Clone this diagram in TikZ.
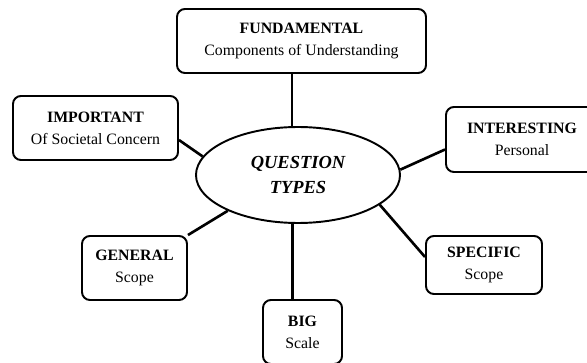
\documentclass[tikz,border=0pt]{standalone}
\usepackage{fontspec}
\setmainfont{Liberation Serif}
\usepackage{tikz}
\usetikzlibrary{shapes.geometric}

\begin{document}
\begin{tikzpicture}[
      box/.style={draw, line width=1.1pt, rounded corners=4.5pt, align=center,
                  minimum height=12.8mm, inner sep=1pt, font=\fontsize{9}{12.5}\selectfont},
      hub/.style={draw, ellipse, line width=1.1pt, align=center, inner sep=0pt,
                  minimum width=40.8mm, minimum height=19.2mm,
                  font=\fontsize{10.5}{14}\selectfont\bfseries\itshape},
      link/.style={line width=1.5pt}]
    \useasboundingbox (0,0) rectangle (11.74,7.24);
    \node[hub] (q) at (5.96,3.74) {QUESTION\\ TYPES};
    \node[box, minimum width=49.8mm] (fund) at (6.03,6.42) {\textbf{FUNDAMENTAL}\\ Components of Understanding};
    \node[box, minimum width=33mm] (imp) at (1.91,4.68) {\textbf{IMPORTANT}\\ Of Societal Concern};
    \node[box, minimum width=30.4mm, minimum height=13mm] (inter) at (10.44,4.45) {\textbf{INTERESTING}\\ Personal};
    \node[box, minimum width=21mm] (gen) at (2.69,1.88) {\textbf{GENERAL}\\ Scope};
    \node[box, minimum width=23.2mm, minimum height=11.6mm] (spec) at (9.68,1.94) {\textbf{SPECIFIC}\\ Scope};
    \node[box, minimum width=15.8mm] (big) at (6.05,0.6) {\textbf{BIG}\\ Scale};
    \draw[link] ([xshift=-1.9mm]fund.south) -- ([xshift=-1.9mm]fund.south |- q.north);
    \draw[link] ([yshift=-2.4mm]imp.east) -- (q.169);
    \draw[link] ([yshift=-2mm]inter.west) -- (q.3);
    \draw[link] (gen.north east) -- (q.207);
    \draw[link] ([yshift=1.6mm]spec.west) -- (q.-20);
    \draw[link] ([xshift=-2mm]big.north) -- ([xshift=-2mm]big.north |- q.south);
  \end{tikzpicture}
\end{document}
